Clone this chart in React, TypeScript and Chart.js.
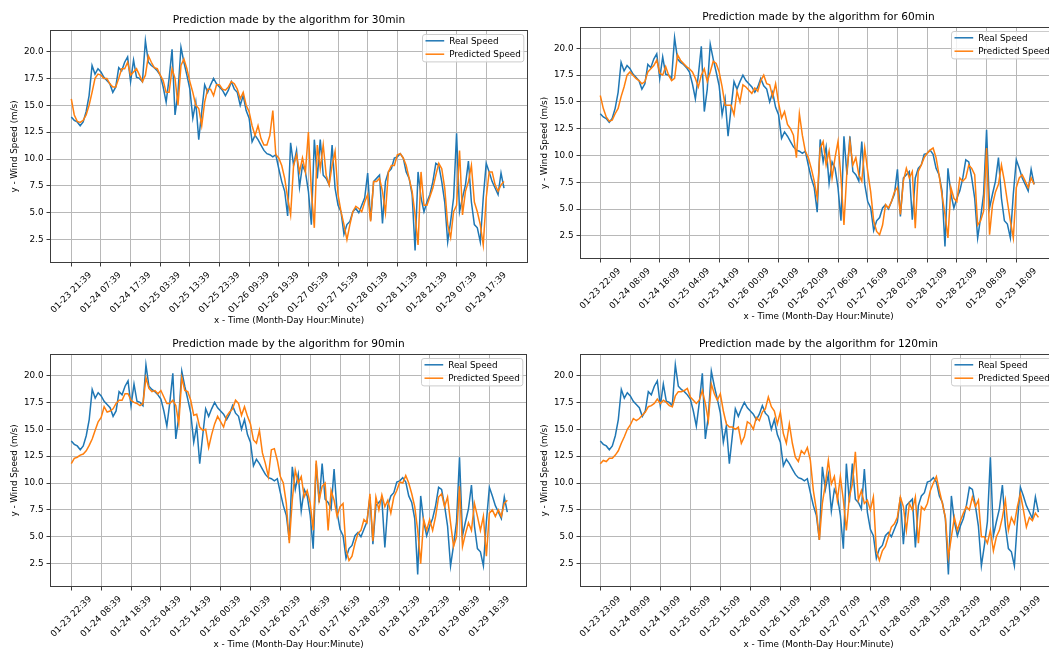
import React, { useEffect, useRef } from "react";
import { Chart, registerables } from "chart.js";

Chart.register(...registerables);

// Wind speed samples, one per hour from the first timestamp (hour 0 .. 146)
const REAL_SPEED = [
  13.9, 13.6, 13.45, 13.1, 13.45, 14.4, 15.9, 18.7, 17.9, 18.4,
  18.1, 17.6, 17.3, 17.0, 16.2, 16.7, 18.5, 18.2, 19.0, 19.5,
  17.2, 19.2, 17.6, 17.5, 17.2, 21.0, 19.0, 18.7, 18.5, 18.2,
  17.8, 16.7, 15.3, 17.5, 20.2, 14.1, 16.2, 20.4, 19.0, 17.8,
  16.5, 13.8, 15.3, 11.8, 14.4, 16.9, 16.2, 16.9, 17.5, 17.0,
  16.7, 16.4, 15.9, 16.4, 17.2, 16.5, 16.2, 15.0, 15.9, 14.5,
  13.8, 11.6, 12.2, 11.8, 11.3, 10.8, 10.5, 10.4, 10.2, 10.4,
  9.1, 7.9, 7.0, 4.7, 11.5, 9.4, 10.8, 7.4, 9.4, 8.8,
  7.0, 3.9, 11.8, 8.2, 11.8, 8.5, 8.2, 7.6, 11.3, 7.3,
  5.7, 5.1, 3.0, 3.9, 4.2, 5.1, 5.4, 5.0, 5.7, 6.4,
  8.7, 4.3, 7.9, 8.2, 8.5, 4.0, 7.9, 8.8, 9.1, 10.1,
  10.2, 10.5, 10.1, 8.8, 8.2, 6.7, 1.5, 8.8, 6.4, 5.1,
  6.0, 6.7, 7.9, 9.6, 9.4, 7.9, 6.0, 2.3, 4.2, 6.4,
  12.4, 5.1, 6.4, 7.6, 9.8, 6.0, 3.9, 3.6, 2.3, 6.4,
  9.6, 8.8, 7.9, 7.3, 6.7, 8.7, 7.3,
];

const PRED_30 = [
  15.6, 14.1, 13.5, 13.4, 13.6, 14.1, 15.0, 16.2, 17.5, 17.9,
  17.8, 17.5, 17.5, 17.0, 16.7, 16.7, 17.5, 18.4, 18.4, 19.0,
  17.8, 18.1, 18.4, 17.8, 17.2, 17.8, 19.6, 19.0, 18.5, 18.4,
  17.8, 17.3, 16.2, 16.2, 18.4, 17.5, 15.0, 18.7, 19.3, 18.4,
  17.2, 16.2, 15.0, 14.7, 13.1, 15.3, 16.5, 16.5, 15.9, 16.9,
  16.9, 16.5, 16.4, 16.7, 17.2, 17.0, 16.5, 15.6, 16.2, 15.0,
  14.4, 13.1, 12.2, 13.1, 11.9, 11.3, 11.3, 12.2, 14.5, 10.4,
  10.1, 9.4, 8.2, 6.4, 4.8, 9.4, 10.4, 8.8, 10.1, 8.8,
  12.5, 7.0, 3.6, 11.3, 9.1, 11.3, 8.5, 7.6, 9.4, 10.7,
  6.7, 5.1, 3.9, 2.5, 3.9, 5.1, 5.6, 5.4, 5.1, 6.0,
  6.7, 4.2, 7.9, 7.9, 8.2, 7.0, 5.0, 8.8, 9.4, 9.4,
  10.4, 10.5, 10.1, 9.4, 8.2, 7.0, 4.8, 2.0, 8.8, 5.7,
  5.7, 6.5, 7.3, 8.5, 9.6, 9.1, 7.3, 3.9, 2.7, 5.1,
  5.7, 10.8, 4.8, 7.0, 7.9, 9.4, 6.0, 5.1, 3.9, 2.0,
  6.4, 8.8, 8.8, 7.6, 7.0, 7.6, 7.9,
];

const PRED_60 = [
  15.6, 14.4, 13.6, 13.2, 13.3, 13.9, 14.4, 15.5, 16.4, 17.5,
  17.8, 17.5, 17.2, 17.0, 16.7, 16.9, 17.8, 18.1, 18.4, 18.9,
  17.7, 17.5, 18.3, 17.5, 17.0, 17.2, 19.4, 18.9, 18.6, 18.3,
  18.1, 17.8, 17.2, 16.4, 17.5, 18.1, 16.9, 17.8, 18.8, 18.6,
  17.8, 16.4, 14.7, 14.7, 14.7, 13.8, 16.0, 15.0, 16.6, 16.4,
  16.1, 15.8, 16.3, 16.0, 17.0, 17.5, 16.7, 16.6, 15.5, 16.7,
  14.9, 13.5, 14.1, 12.9, 12.5, 11.9, 9.8, 13.9, 11.9, 10.4,
  9.8, 8.8, 7.6, 6.0, 10.7, 11.3, 9.1, 10.4, 7.9, 9.8,
  11.3, 7.9, 3.5, 8.5, 11.3, 9.1, 9.8, 8.2, 7.6, 10.7,
  8.5, 6.6, 3.9, 2.9, 2.6, 3.5, 5.4, 5.1, 5.7, 6.6,
  7.0, 4.5, 7.6, 8.8, 7.9, 8.5, 3.2, 8.5, 9.1, 9.8,
  10.2, 10.5, 10.7, 9.8, 8.2, 6.3, 4.5, 2.3, 7.0, 6.0,
  5.7, 7.9, 7.6, 7.9, 9.1, 8.8, 8.2, 3.5, 3.9, 4.8,
  10.7, 2.6, 5.4, 6.6, 7.3, 9.1, 7.6, 5.7, 3.9, 2.3,
  7.0, 7.9, 8.2, 7.6, 7.0, 7.9, 7.3,
];

const PRED_90 = [
  11.8, 12.3, 12.4, 12.6, 12.7, 13.0, 13.5, 14.1, 14.9, 15.7,
  16.1, 17.1, 16.6, 16.7, 16.9, 17.4, 17.7, 17.7, 18.3, 18.3,
  17.7, 17.5, 17.4, 17.2, 17.4, 19.8, 18.8, 18.5, 18.6, 18.3,
  18.6, 18.0, 17.4, 17.4, 17.7, 17.2, 15.5, 19.8, 18.6, 18.5,
  17.7, 16.3, 16.4, 15.2, 14.9, 15.0, 13.3, 14.5, 15.5, 16.2,
  15.7, 15.2, 16.2, 16.6, 16.9, 17.7, 17.4, 16.3, 17.1, 16.2,
  15.5, 14.0, 13.7, 14.9, 12.8, 11.8, 10.6, 13.1, 13.2, 12.1,
  10.6, 10.0, 8.1, 4.4, 8.4, 11.2, 10.0, 10.6, 8.7, 9.3,
  8.1, 5.6, 12.1, 8.4, 9.7, 10.0, 5.6, 9.3, 8.4, 6.9,
  7.8, 8.1, 3.8, 2.8, 3.2, 4.4, 5.3, 5.6, 6.6, 6.3,
  9.0, 4.6, 8.7, 7.5, 8.9, 7.8, 8.4, 7.2, 8.7, 9.3,
  10.1, 10.0, 10.7, 10.0, 9.0, 7.8, 5.6, 2.5, 6.6, 5.6,
  6.6, 5.6, 6.9, 8.7, 9.0, 7.8, 8.7, 6.3, 4.1, 5.0,
  9.7, 4.1, 5.3, 6.3, 5.6, 8.1, 6.9, 5.6, 6.9, 3.2,
  7.2, 7.5, 6.9, 7.5, 6.9, 8.1, 8.4,
];

const PRED_120 = [
  11.8, 12.1, 12.0, 12.3, 12.3, 12.6, 13.0, 13.7, 14.3, 15.0,
  15.4, 16.0, 15.8, 16.0, 16.3, 16.6, 17.1, 17.2, 17.4, 17.8,
  17.4, 17.7, 17.5, 17.2, 17.1, 18.1, 18.5, 18.5, 18.6, 18.8,
  18.0, 17.7, 17.4, 17.7, 18.6, 17.4, 15.8, 19.2, 18.3, 17.7,
  18.3, 16.7, 15.5, 15.2, 15.2, 15.0, 15.2, 13.7, 14.3, 15.7,
  15.5, 15.0, 16.1, 15.8, 16.6, 16.9, 18.0, 17.1, 16.7, 15.5,
  16.6, 14.6, 13.7, 15.5, 13.7, 12.4, 12.0, 13.0, 12.7, 13.3,
  12.1, 9.3, 7.5, 4.7, 8.1, 9.9, 12.1, 9.9, 10.6, 8.4,
  10.6, 8.4, 5.6, 8.7, 9.9, 12.9, 8.4, 9.3, 8.1, 8.4,
  7.5, 8.7, 3.7, 2.8, 3.7, 4.1, 5.0, 5.9, 6.2, 6.8,
  8.7, 7.8, 5.6, 8.1, 7.5, 8.7, 4.4, 7.8, 7.5, 8.1,
  9.3, 10.0, 10.6, 9.3, 8.1, 6.8, 3.1, 5.0, 6.8, 5.6,
  6.5, 7.2, 7.8, 7.5, 8.7, 7.8, 8.4, 5.0, 5.0, 4.4,
  5.6, 3.7, 5.0, 5.6, 6.8, 8.4, 5.6, 6.8, 6.2, 7.8,
  9.0, 7.5, 5.9, 6.8, 6.5, 7.2, 6.8,
];

const X_TICK_HOURS = [0, 10, 20, 30, 40, 50, 60, 70, 80, 90, 100, 110, 120, 130, 140];
const Y_TICKS = [2.5, 5.0, 7.5, 10.0, 12.5, 15.0, 17.5, 20.0];

const LABELS_30 = ["01-23 21:39", "01-24 07:39", "01-24 17:39", "01-25 03:39", "01-25 13:39", "01-25 23:39", "01-26 09:39", "01-26 19:39", "01-27 05:39", "01-27 15:39", "01-28 01:39", "01-28 11:39", "01-28 21:39", "01-29 07:39", "01-29 17:39"];
const LABELS_60 = ["01-23 22:09", "01-24 08:09", "01-24 18:09", "01-25 04:09", "01-25 14:09", "01-26 00:09", "01-26 10:09", "01-26 20:09", "01-27 06:09", "01-27 16:09", "01-28 02:09", "01-28 12:09", "01-28 22:09", "01-29 08:09", "01-29 18:09"];
const LABELS_90 = ["01-23 22:39", "01-24 08:39", "01-24 18:39", "01-25 04:39", "01-25 14:39", "01-26 00:39", "01-26 10:39", "01-26 20:39", "01-27 06:39", "01-27 16:39", "01-28 02:39", "01-28 12:39", "01-28 22:39", "01-29 08:39", "01-29 18:39"];
const LABELS_120 = ["01-23 23:09", "01-24 09:09", "01-24 19:09", "01-25 05:09", "01-25 15:09", "01-26 01:09", "01-26 11:09", "01-26 21:09", "01-27 07:09", "01-27 17:09", "01-28 03:09", "01-28 13:09", "01-28 23:09", "01-29 09:09", "01-29 19:09"];

const TITLES = [
  "Prediction made by the algorithm for 30min",
  "Prediction made by the algorithm for 60min",
  "Prediction made by the algorithm for 90min",
  "Prediction made by the algorithm for 120min",
];
const X_TITLE = "x - Time (Month-Day Hour:Minute)";
const Y_TITLE = "y - Wind Speed (m/s)";
const LEGEND = ["Real Speed", "Predicted Speed"];

const BLUE = "#1f77b4";
const ORANGE = "#ff7f0e";
const FONT = '"DejaVu Sans", sans-serif';
const CW = 1100;
const CH = 651;
const Y_MIN = 0.33;
const Y_MAX = 22.0;

type Panel = {
  title: string;
  labels: string[];
  pred: number[];
  frame: { l: number; t: number; r: number; b: number };
  xMin: number;
  xMax: number;
};

const PANELS: Panel[] = [
  { title: TITLES[0], labels: LABELS_30, pred: PRED_30, frame: { l: 50, t: 30, r: 528, b: 263 }, xMin: -7.19, xMax: 154.1 },
  { title: TITLES[1], labels: LABELS_60, pred: PRED_60, frame: { l: 580, t: 27, r: 1057, b: 259 }, xMin: -6.83, xMax: 153.7 },
  { title: TITLES[2], labels: LABELS_90, pred: PRED_90, frame: { l: 50, t: 354, r: 527, b: 587 }, xMin: -7.13, xMax: 152.6 },
  { title: TITLES[3], labels: LABELS_120, pred: PRED_120, frame: { l: 580, t: 354, r: 1057, b: 587 }, xMin: -6.77, xMax: 152.2 },
];

const al = (v: number) => Math.round(v - 0.5) + 0.5;

function decor(p: Panel) {
  return {
    id: "decor",
    afterDraw(chart: any) {
      const ctx: CanvasRenderingContext2D = chart.ctx;
      const { left: L, right: R, top: T, bottom: B } = chart.chartArea;
      const sx = chart.scales.x;
      const sy = chart.scales.y;
      ctx.save();
      // frame
      ctx.strokeStyle = "#3c3c3c";
      ctx.lineWidth = 1;
      ctx.strokeRect(L + 0.5, T + 0.5, R - L - 1, B - T - 1);
      // tick marks
      ctx.beginPath();
      X_TICK_HOURS.forEach((v) => {
        const x = al(sx.getPixelForValue(v));
        ctx.moveTo(x, B);
        ctx.lineTo(x, B + 3.5);
      });
      Y_TICKS.forEach((v) => {
        const y = al(sy.getPixelForValue(v));
        ctx.moveTo(L - 3.5, y);
        ctx.lineTo(L, y);
      });
      ctx.stroke();

      ctx.fillStyle = "#000";
      const fs = 8.8;
      ctx.font = `${fs}px ${FONT}`;
      // y tick labels
      ctx.textAlign = "right";
      ctx.textBaseline = "middle";
      Y_TICKS.forEach((v) => {
        ctx.fillText(v.toFixed(1), L - 6.5, sy.getPixelForValue(v));
      });
      // x tick labels rotated 45deg, centred under tick
      ctx.textAlign = "center";
      X_TICK_HOURS.forEach((v, i) => {
        const lab = p.labels[i];
        const w = ctx.measureText(lab).width;
        const bb = (w + fs * 1.17) * Math.SQRT1_2;
        const x = sx.getPixelForValue(v);
        ctx.save();
        ctx.translate(x, B + 7 + bb / 2);
        ctx.rotate(-Math.PI / 4);
        ctx.fillText(lab, 0, 0);
        ctx.restore();
      });
      // axis titles
      ctx.fillText(X_TITLE, (L + R) / 2, B + 57.5);
      ctx.save();
      ctx.translate(L - 35, (T + B) / 2);
      ctx.rotate(-Math.PI / 2);
      ctx.fillText(Y_TITLE, 0, 0);
      ctx.restore();
      // chart title
      ctx.font = `10.6px ${FONT}`;
      ctx.textBaseline = "alphabetic";
      ctx.fillText(p.title, (L + R) / 2, T - 7);

      // legend
      const lx = R - 105.3;
      const ly = T + 4.6;
      const lw = 101.3;
      const lh = 27.4;
      ctx.beginPath();
      (ctx as any).roundRect(al(lx), al(ly), lw, lh, 2.5);
      ctx.fillStyle = "rgba(255,255,255,0.8)";
      ctx.fill();
      ctx.strokeStyle = "#cccccc";
      ctx.lineWidth = 1;
      ctx.stroke();
      const rows = [
        { c: BLUE, t: LEGEND[0], y: ly + 6.2 },
        { c: ORANGE, t: LEGEND[1], y: ly + 19.6 },
      ];
      ctx.font = `${fs}px ${FONT}`;
      ctx.textAlign = "left";
      ctx.textBaseline = "middle";
      rows.forEach((r) => {
        ctx.strokeStyle = r.c;
        ctx.lineWidth = 1.5;
        ctx.beginPath();
        ctx.moveTo(lx + 2.8, r.y);
        ctx.lineTo(lx + 21.5, r.y);
        ctx.stroke();
        ctx.fillStyle = "#000";
        ctx.fillText(r.t, lx + 26.5, r.y + 0.5);
      });
      ctx.restore();
    },
  };
}

function buildConfig(p: Panel): any {
  const toPts = (arr: number[]) => arr.map((y, i) => ({ x: i, y }));
  return {
    type: "line",
    data: {
      datasets: [
        { label: LEGEND[1], data: toPts(p.pred), borderColor: ORANGE, borderWidth: 1.5, pointRadius: 0, tension: 0, fill: false },
        { label: LEGEND[0], data: toPts(REAL_SPEED), borderColor: BLUE, borderWidth: 1.5, pointRadius: 0, tension: 0, fill: false },
      ],
    },
    options: {
      responsive: false,
      animation: false,
      devicePixelRatio: 1,
      events: [],
      layout: {
        padding: { left: p.frame.l, top: p.frame.t, right: CW - p.frame.r, bottom: CH - p.frame.b },
      },
      plugins: { legend: { display: false }, tooltip: { enabled: false }, title: { display: false } },
      scales: {
        x: {
          type: "linear",
          min: p.xMin,
          max: p.xMax,
          bounds: "data",
          ticks: { display: false },
          grid: { color: "#b8b8b8", lineWidth: 1, drawTicks: false },
          border: { display: false },
          afterBuildTicks: (s: any) => {
            s.ticks = X_TICK_HOURS.map((v) => ({ value: v }));
          },
          afterFit: (s: any) => {
            s.height = 0;
          },
        },
        y: {
          type: "linear",
          min: Y_MIN,
          max: Y_MAX,
          bounds: "data",
          ticks: { display: false },
          grid: { color: "#b8b8b8", lineWidth: 1, drawTicks: false },
          border: { display: false },
          afterBuildTicks: (s: any) => {
            s.ticks = Y_TICKS.map((v) => ({ value: v }));
          },
          afterFit: (s: any) => {
            s.width = 0;
          },
        },
      },
    },
    plugins: [decor(p)],
  };
}

export default function App() {
  const r0 = useRef<HTMLCanvasElement>(null);
  const r1 = useRef<HTMLCanvasElement>(null);
  const r2 = useRef<HTMLCanvasElement>(null);
  const r3 = useRef<HTMLCanvasElement>(null);
  const refs = [r0, r1, r2, r3];
  useEffect(() => {
    const charts = PANELS.map((p, i) => new Chart(refs[i].current as HTMLCanvasElement, buildConfig(p)));
    return () => charts.forEach((c) => c.destroy());
  }, []);
  return (
    <div style={{ position: "fixed", left: 0, top: 0, width: 1049, height: 651, overflow: "hidden", background: "#fff" }}>
      {PANELS.map((p, i) => (
        <canvas
          key={i}
          ref={refs[i]}
          width={CW}
          height={CH}
          style={{ position: "absolute", left: 0, top: 0, width: CW, height: CH }}
        />
      ))}
    </div>
  );
}
